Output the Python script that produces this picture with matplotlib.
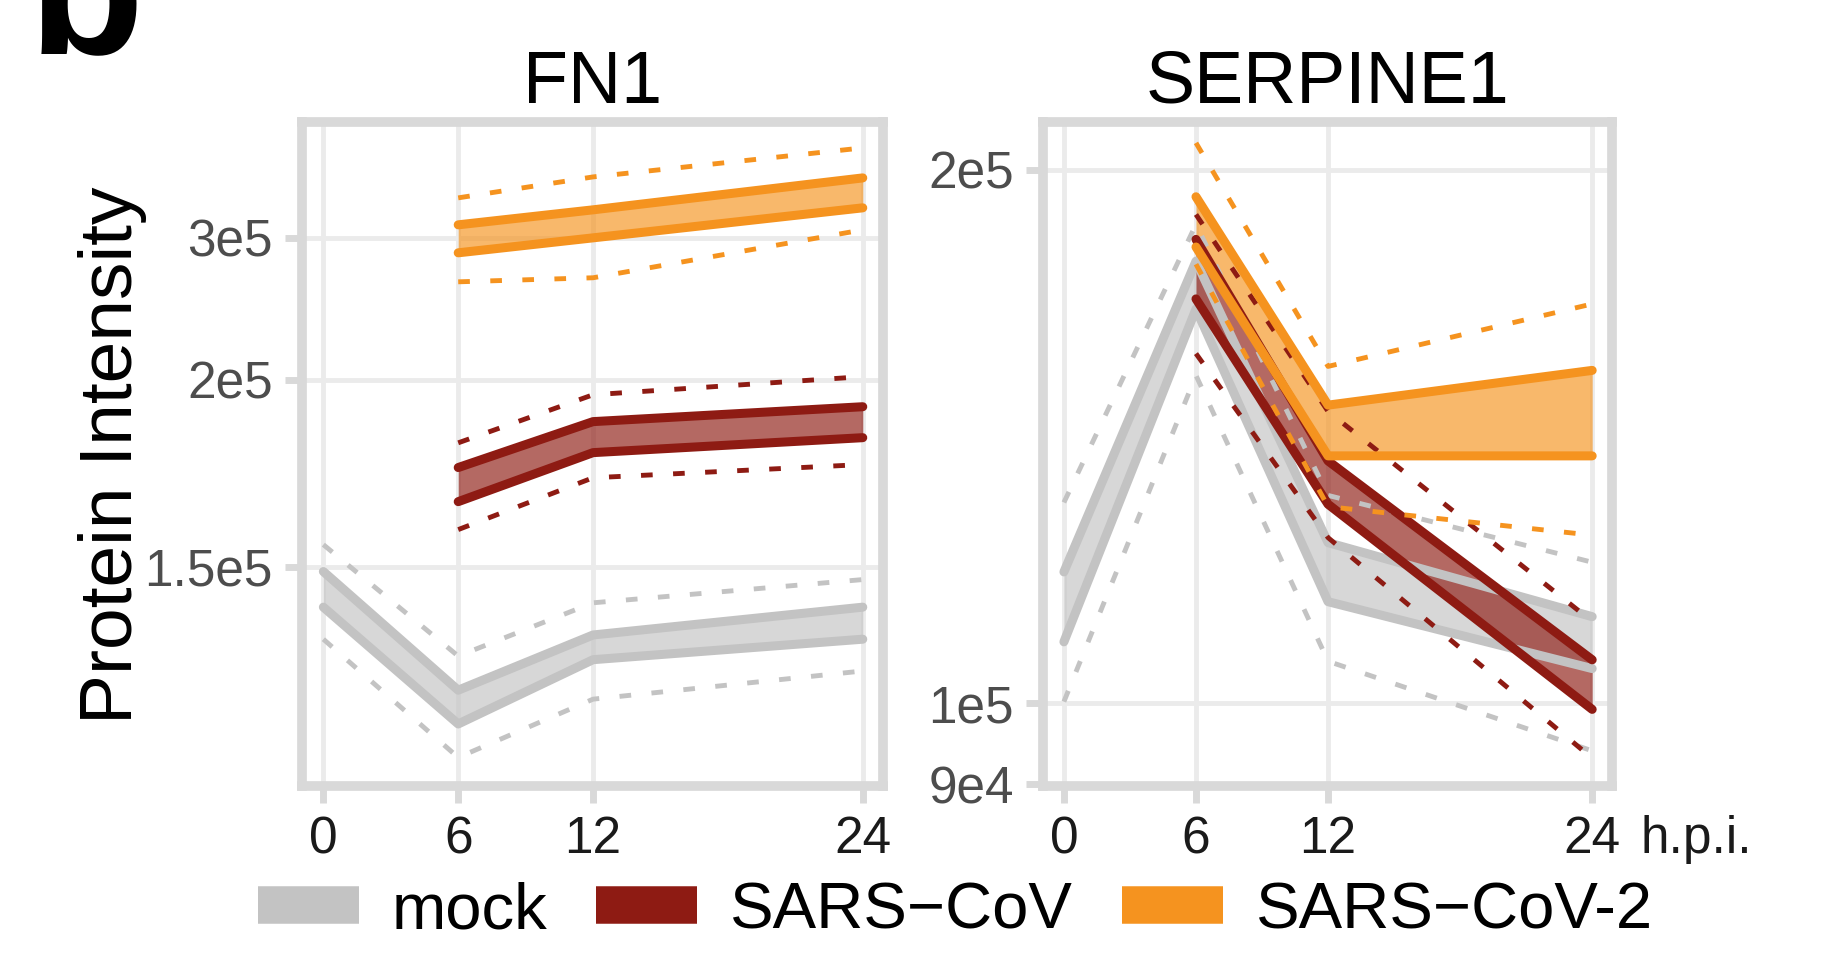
import numpy as np
import matplotlib.pyplot as plt
from matplotlib.lines import Line2D
from matplotlib.ticker import NullLocator, NullFormatter

plt.rcParams['font.family'] = ['Liberation Sans', 'DejaVu Sans']

# time points (hours post infection)
hpi = [0, 6, 12, 24]
hpi_inf = [6, 12, 24]

groups = ['mock', 'SARS\u2212CoV', 'SARS\u2212CoV-2']
colors = ['#c3c3c3', '#8e1b13', '#f5931f']

# FN1 - band edges (lo/hi) and dashed outer lines (dlo/dhi)
fn1_mock_hi = [149300, 137400, 141900, 144800]
fn1_mock_lo = [144800, 135300, 139700, 141500]
fn1_mock_dhi = [153400, 140000, 145300, 148200]
fn1_mock_dlo = [141500, 133600, 136800, 138800]
fn1_cov_hi = [169600, 183500, 188900]
fn1_cov_lo = [161500, 173700, 178200]
fn1_cov_dhi = [176600, 193600, 201400]
fn1_cov_dlo = [156000, 167000, 170400]
fn1_cov2_hi = [314200, 332000, 375700]
fn1_cov2_lo = [285000, 300000, 334500]
fn1_cov2_dhi = [347400, 377200, 425200]
fn1_cov2_dlo = [259500, 262800, 308600]

# SERPINE1
se_mock_hi = [118600, 177600, 123200, 111900]
se_mock_lo = [108300, 166900, 114100, 104600]
se_mock_dhi = [129800, 186300, 131000, 120100]
se_mock_dlo = [100200, 153100, 105600, 94000]
se_cov_hi = [182700, 137000, 105800]
se_cov_lo = [169100, 129500, 99200]
se_cov_dhi = [188700, 146100, 111200]
se_cov_dlo = [157500, 124000, 93100]
se_cov2_hi = [193100, 147300, 154100]
se_cov2_lo = [180900, 137900, 137900]
se_cov2_dhi = [207100, 154900, 168000]
se_cov2_dlo = [176900, 129100, 124400]

fn1_ticks = [150000, 200000, 300000]
fn1_ticklabels = ['1.5e5', '2e5', '3e5']
se_ticks = [90000, 100000, 200000]
se_ticklabels = ['9e4', '1e5', '2e5']

BORDER = '#d9d9d9'
GRID = '#ebebeb'
DASH = (0, (2.4, 4.2))


def draw(ax, x, lo, hi, dlo, dhi, color):
    ax.fill_between(x, lo, hi, color=color, alpha=0.66, lw=0)
    ax.plot(x, lo, color=color, lw=6.5, solid_capstyle='round')
    ax.plot(x, hi, color=color, lw=6.5, solid_capstyle='round')
    ax.plot(x, dlo, color=color, lw=3.5, ls=DASH)
    ax.plot(x, dhi, color=color, lw=3.5, ls=DASH)


def style(ax, title):
    ax.set_xlim(-0.95, 24.9)
    ax.set_xticks(hpi)
    ax.set_xticklabels([str(h) for h in hpi])
    for s in ax.spines.values():
        s.set_color(BORDER)
        s.set_linewidth(7)
    ax.tick_params(axis='both', color=BORDER, width=5, length=12, labelsize=37, pad=9)
    ax.tick_params(axis='y', labelcolor='#4d4d4d')
    ax.tick_params(axis='x', labelcolor='#1a1a1a')
    ax.grid(True, which='major', color=GRID, lw=3.5)
    ax.set_axisbelow(True)
    ax.set_title(title, fontsize=53, pad=14)


fig = plt.figure(figsize=(18.31, 9.56), dpi=100)
ax1 = fig.add_axes([302 / 1831, 1 - 786 / 956, 581 / 1831, 664 / 956])
ax2 = fig.add_axes([1043 / 1831, 1 - 786 / 956, 569 / 1831, 664 / 956])

# FN1 panel uses a shifted log scale
C = 126000.0
ax1.set_yscale('function', functions=(lambda y: np.log(np.maximum(np.asarray(y) - C, 1.0)),
                                      lambda v: np.exp(v) + C))
draw(ax1, hpi, fn1_mock_lo, fn1_mock_hi, fn1_mock_dlo, fn1_mock_dhi, colors[0])
draw(ax1, hpi_inf, fn1_cov_lo, fn1_cov_hi, fn1_cov_dlo, fn1_cov_dhi, colors[1])
draw(ax1, hpi_inf, fn1_cov2_lo, fn1_cov2_hi, fn1_cov2_dlo, fn1_cov2_dhi, colors[2])
ax1.set_ylim(132400, 475700)
ax1.set_yticks(fn1_ticks)
ax1.set_yticklabels(fn1_ticklabels)
ax1.yaxis.set_minor_locator(NullLocator())
style(ax1, 'FN1')

ax2.set_yscale('log')
draw(ax2, hpi, se_mock_lo, se_mock_hi, se_mock_dlo, se_mock_dhi, colors[0])
draw(ax2, hpi_inf, se_cov_lo, se_cov_hi, se_cov_dlo, se_cov_dhi, colors[1])
draw(ax2, hpi_inf, se_cov2_lo, se_cov2_hi, se_cov2_dlo, se_cov2_dhi, colors[2])
ax2.set_ylim(89800, 212800)
ax2.set_yticks(se_ticks)
ax2.set_yticklabels(se_ticklabels)
ax2.yaxis.set_minor_locator(NullLocator())
ax2.yaxis.set_minor_formatter(NullFormatter())
style(ax2, 'SERPINE1')

ax2.annotate('h.p.i.', xy=(24, 0), xycoords=('data', 'axes fraction'),
             xytext=(34.6, -21), textcoords='offset points',
             ha='left', va='top', fontsize=37, color='#1a1a1a', annotation_clip=False)

fig.text(113 / 1831, 1 - 455 / 956, 'Protein Intensity', rotation=90,
         ha='center', va='center', fontsize=54)

# panel letter, cut at the top edge as in the source figure
fig.text(29 / 1831, 1 - 53 / 956, 'b', fontsize=136, fontweight='bold',
         ha='left', va='baseline')

handles = [Line2D([], [], color=c, lw=27, solid_capstyle='butt') for c in colors]
fig.legend(handles, groups, loc='center', bbox_to_anchor=(0.5217, 0.047), ncol=3,
           frameon=False, fontsize=47, handlelength=1.55, handletextpad=0.5,
           columnspacing=0.75)

fig.savefig('out.png', dpi=100)
